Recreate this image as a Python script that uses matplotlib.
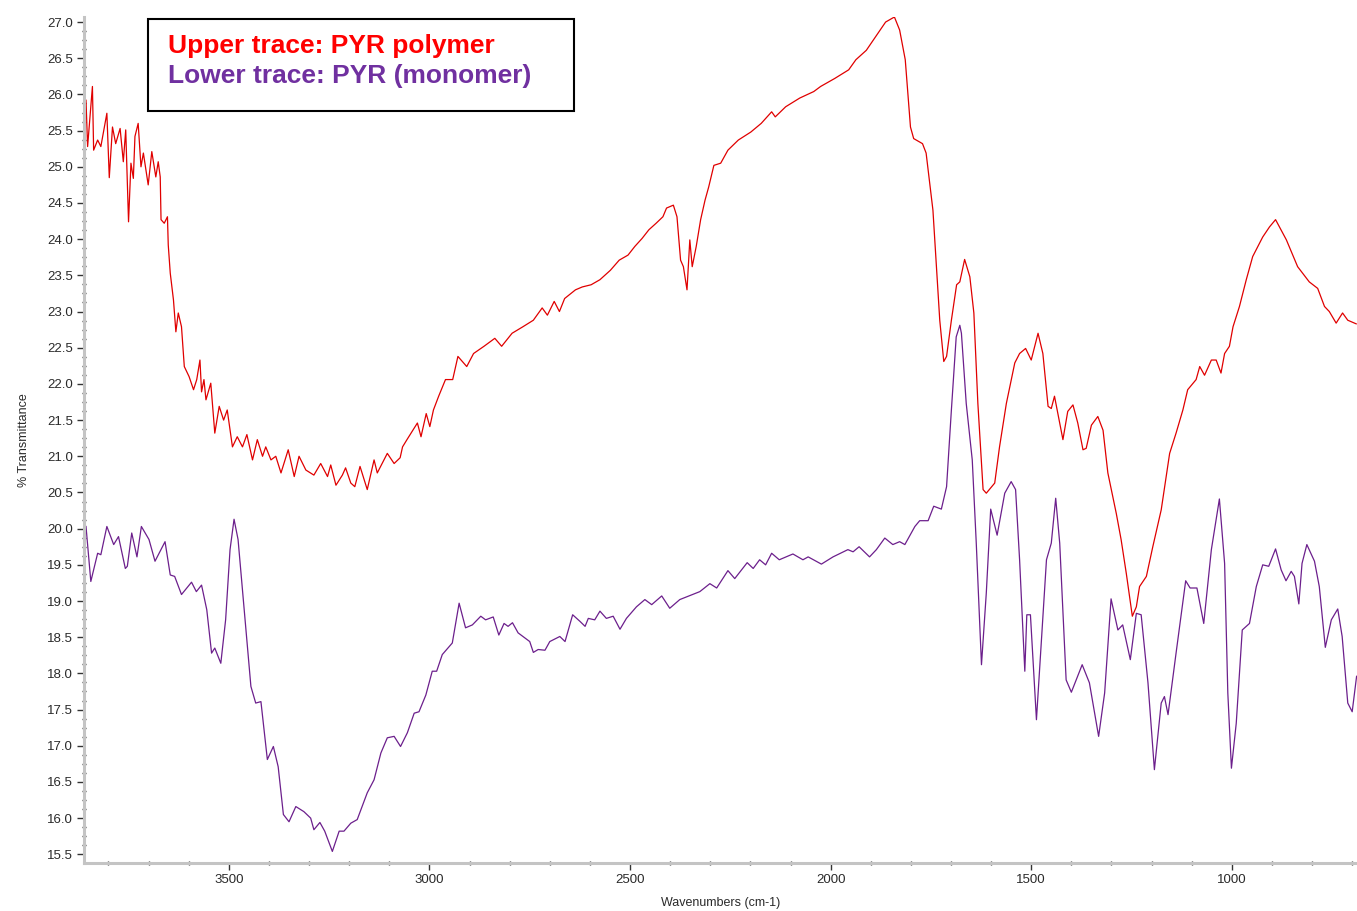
import matplotlib
matplotlib.use("Agg")
import matplotlib.pyplot as plt
from matplotlib.patches import Rectangle
from matplotlib.ticker import MultipleLocator, FormatStrFormatter

plt.rcParams['font.family'] = ['Liberation Sans', 'DejaVu Sans']

# PYR polymer (upper trace)
poly_wn = [3856, 3852, 3840, 3837, 3827, 3819, 3804, 3798, 3790, 3782, 3771, 3763, 3757, 3750,
           3744, 3738, 3734, 3726, 3719, 3713, 3701, 3692, 3682, 3676, 3671, 3669, 3661, 3653,
           3651, 3646, 3638, 3632, 3626, 3618, 3611, 3599, 3588, 3580, 3572, 3568, 3562, 3557,
           3545, 3535, 3524, 3513, 3504, 3491, 3479, 3466, 3455, 3441, 3429, 3416, 3408, 3395,
           3383, 3370, 3352, 3337, 3325, 3308, 3288, 3271, 3254, 3246, 3233, 3217, 3209, 3196,
           3186, 3173, 3155, 3138, 3130, 3105, 3088, 3073, 3067, 3056, 3030, 3021, 3008, 2999,
           2990, 2977, 2960, 2942, 2929, 2907, 2890, 2864, 2837, 2820, 2794, 2767, 2741, 2719,
           2706, 2689, 2676, 2663, 2636, 2619, 2597, 2575, 2549, 2527, 2505, 2488, 2470, 2453,
           2435, 2418, 2409, 2392, 2383, 2374, 2367, 2358, 2351, 2345, 2335, 2324, 2313, 2304,
           2291, 2274, 2256, 2230, 2199, 2173, 2147, 2138, 2112, 2077, 2042, 2025, 1990, 1955,
           1937, 1911, 1885, 1863, 1841, 1828, 1814, 1801, 1793, 1771, 1762, 1745, 1736, 1728,
           1718, 1711, 1699, 1686, 1678, 1666, 1653, 1643, 1633, 1620, 1612, 1591, 1579, 1562,
           1541, 1529, 1514, 1500, 1483, 1471, 1458, 1450, 1442, 1421, 1409, 1396, 1384, 1371,
           1363, 1350, 1334, 1321, 1309, 1288, 1276, 1263, 1248, 1238, 1230, 1213, 1197, 1176,
           1155, 1139, 1122, 1110, 1089, 1080, 1068, 1051, 1039, 1027, 1018, 1006, 997, 981,
           964, 948, 923, 906, 891, 864, 836, 807, 786, 769, 757, 740, 724, 711, 690]
poly_t = [25.92, 25.28, 26.11, 25.23, 25.37, 25.28, 25.74, 24.85, 25.55, 25.32, 25.53, 25.07, 25.51, 24.24,
          25.05, 24.84, 25.42, 25.60, 25.00, 25.19, 24.75, 25.21, 24.86, 25.07, 24.86, 24.27, 24.22, 24.31,
          23.92, 23.53, 23.16, 22.72, 22.98, 22.79, 22.24, 22.10, 21.92, 22.06, 22.33, 21.89, 22.06, 21.78,
          22.01, 21.32, 21.69, 21.50, 21.64, 21.13, 21.27, 21.13, 21.30, 20.95, 21.23, 21.00, 21.13, 20.95,
          21.00, 20.77, 21.09, 20.72, 21.00, 20.81, 20.74, 20.90, 20.72, 20.88, 20.60, 20.74, 20.84, 20.63,
          20.58, 20.86, 20.54, 20.95, 20.77, 21.04, 20.90, 20.98, 21.13, 21.23, 21.46, 21.27, 21.59, 21.41,
          21.64, 21.83, 22.06, 22.06, 22.38, 22.24, 22.42, 22.52, 22.63, 22.52, 22.70, 22.79, 22.88, 23.05,
          22.95, 23.14, 23.00, 23.18, 23.30, 23.34, 23.37, 23.44, 23.57, 23.71, 23.78, 23.90, 24.01, 24.13,
          24.22, 24.31, 24.43, 24.47, 24.31, 23.71, 23.62, 23.30, 23.99, 23.62, 23.90, 24.27, 24.54, 24.72,
          25.02, 25.05, 25.23, 25.37, 25.48, 25.60, 25.76, 25.69, 25.83, 25.95, 26.04, 26.11, 26.22, 26.34,
          26.48, 26.61, 26.82, 27.00, 27.07, 26.89, 26.48, 25.55, 25.39, 25.32, 25.19, 24.40, 23.60, 22.88,
          22.31, 22.38, 22.88, 23.37, 23.41, 23.72, 23.48, 22.98, 21.73, 20.54, 20.49, 20.63, 21.13, 21.73,
          22.29, 22.42, 22.49, 22.33, 22.70, 22.42, 21.69, 21.66, 21.83, 21.23, 21.62, 21.71, 21.46, 21.09,
          21.11, 21.43, 21.55, 21.36, 20.77, 20.21, 19.85, 19.38, 18.79, 18.92, 19.20, 19.34, 19.75, 20.26,
          21.04, 21.32, 21.64, 21.92, 22.06, 22.24, 22.12, 22.33, 22.33, 22.15, 22.42, 22.52, 22.79, 23.07,
          23.44, 23.76, 24.03, 24.17, 24.27, 23.99, 23.62, 23.41, 23.32, 23.07, 23.00, 22.84, 22.98, 22.88, 22.83]

# PYR monomer (lower trace)
mono_wn = [3856, 3844, 3827, 3819, 3804, 3787, 3775, 3758, 3753, 3742, 3729, 3718, 3699, 3684,
           3659, 3646, 3635, 3618, 3593, 3581, 3568, 3555, 3543, 3535, 3520, 3508, 3497, 3487,
           3477, 3464, 3445, 3433, 3420, 3404, 3389, 3377, 3364, 3350, 3333, 3313, 3296, 3288,
           3273, 3261, 3242, 3225, 3213, 3196, 3180, 3155, 3138, 3121, 3105, 3088, 3072, 3055,
           3038, 3026, 3009, 2993, 2982, 2968, 2943, 2926, 2910, 2893, 2872, 2860, 2841, 2827,
           2814, 2804, 2793, 2779, 2750, 2741, 2729, 2712, 2700, 2675, 2662, 2643, 2625, 2612,
           2604, 2588, 2575, 2559, 2542, 2525, 2509, 2484, 2463, 2446, 2421, 2401, 2376, 2326,
           2301, 2284, 2256, 2239, 2208, 2193, 2177, 2162, 2147, 2128, 2094, 2069, 2056, 2023,
           1994, 1957, 1944, 1929, 1903, 1886, 1865, 1845, 1828, 1815, 1790, 1778, 1757, 1743,
           1724, 1711, 1699, 1687, 1678, 1674, 1662, 1647, 1637, 1624, 1612, 1601, 1585, 1566,
           1550, 1539, 1529, 1516, 1511, 1502, 1487, 1475, 1462, 1450, 1439, 1429, 1413, 1400,
           1373, 1355, 1332, 1317, 1301, 1284, 1272, 1253, 1238, 1226, 1209, 1193, 1176, 1168,
           1159, 1139, 1115, 1104, 1087, 1070, 1051, 1031, 1018, 1010, 1001, 989, 974, 956,
           939, 923, 908, 891, 877, 865, 852, 844, 833, 825, 813, 794, 782, 767,
           752, 736, 725, 711, 700, 689]
mono_t = [20.03, 19.27, 19.66, 19.64, 20.03, 19.78, 19.89, 19.45, 19.48, 19.94, 19.61, 20.03, 19.85, 19.55,
          19.82, 19.36, 19.34, 19.09, 19.26, 19.13, 19.22, 18.88, 18.28, 18.35, 18.14, 18.74, 19.71, 20.13,
          19.85, 19.02, 17.82, 17.59, 17.61, 16.81, 16.99, 16.71, 16.05, 15.95, 16.16, 16.09, 16.00, 15.84,
          15.94, 15.82, 15.54, 15.82, 15.82, 15.93, 15.98, 16.35, 16.53, 16.90, 17.11, 17.13, 16.99, 17.18,
          17.45, 17.47, 17.70, 18.03, 18.03, 18.26, 18.42, 18.97, 18.63, 18.67, 18.79, 18.74, 18.78, 18.53,
          18.69, 18.65, 18.70, 18.56, 18.44, 18.29, 18.33, 18.32, 18.44, 18.51, 18.44, 18.81, 18.72, 18.65,
          18.76, 18.74, 18.86, 18.76, 18.79, 18.61, 18.76, 18.92, 19.02, 18.95, 19.07, 18.90, 19.02, 19.13,
          19.24, 19.18, 19.42, 19.31, 19.53, 19.45, 19.57, 19.50, 19.66, 19.57, 19.65, 19.57, 19.61, 19.51,
          19.61, 19.71, 19.68, 19.75, 19.61, 19.71, 19.87, 19.78, 19.82, 19.78, 20.03, 20.11, 20.11, 20.31,
          20.27, 20.58, 21.64, 22.65, 22.81, 22.70, 21.73, 20.95, 19.80, 18.12, 19.11, 20.27, 19.91, 20.49,
          20.65, 20.54, 19.57, 18.03, 18.81, 18.81, 17.36, 18.42, 19.57, 19.80, 20.42, 19.80, 17.91, 17.74,
          18.12, 17.87, 17.13, 17.73, 19.03, 18.60, 18.67, 18.19, 18.83, 18.81, 17.87, 16.67, 17.59, 17.68,
          17.43, 18.28, 19.28, 19.18, 19.18, 18.69, 19.71, 20.41, 19.52, 17.73, 16.69, 17.31, 18.60, 18.69,
          19.20, 19.50, 19.48, 19.72, 19.43, 19.28, 19.41, 19.34, 18.96, 19.52, 19.78, 19.55, 19.20, 18.36,
          18.74, 18.89, 18.51, 17.59, 17.47, 17.96]

W, H = 1357, 911
fig = plt.figure(figsize=(W / 100, H / 100), dpi=100)
ax = fig.add_axes([84 / W, 1 - 863 / H, (W - 84) / W, (863 - 17) / H])

ax.plot(poly_wn, poly_t, color='#e00000', lw=0.9)
ax.plot(mono_wn, mono_t, color='#6c1f8c', lw=0.9)

ax.set_xlim(3861, 688)
ax.set_ylim(15.38, 27.07)

ax.xaxis.set_major_locator(MultipleLocator(500))
ax.xaxis.set_minor_locator(MultipleLocator(100))
ax.yaxis.set_major_locator(MultipleLocator(0.5))
ax.yaxis.set_minor_locator(MultipleLocator(0.125))
ax.yaxis.set_major_formatter(FormatStrFormatter('%.1f'))

for s in ['top', 'right']:
    ax.spines[s].set_visible(False)
for s in ['left', 'bottom']:
    ax.spines[s].set_color('#c4c4c4')
    ax.spines[s].set_linewidth(2.2)

ax.tick_params(which='major', direction='out', length=5, width=1, color='#333333',
               labelsize=9.5, labelcolor='#2a2a2a', pad=3)
ax.tick_params(which='minor', direction='inout', length=3, width=1, color='#333333')

ax.set_xlabel('Wavenumbers (cm-1)', fontsize=9, color='#2a2a2a', labelpad=8)
ax.set_ylabel('% Transmittance', fontsize=9, color='#2a2a2a', labelpad=12)

fig.add_artist(Rectangle((148 / W, 1 - 111 / H), (574 - 148) / W, (111 - 19) / H,
                         transform=fig.transFigure, facecolor='white', edgecolor='black', lw=1.5))
fig.text(168 / W, 1 - 46 / H, 'Upper trace: PYR polymer', color='#ff0000',
         fontsize=19, fontweight='bold', va='center', ha='left')
fig.text(168 / W, 1 - 76 / H, 'Lower trace: PYR (monomer)', color='#7030a0',
         fontsize=19, fontweight='bold', va='center', ha='left')

fig.savefig('out.png', dpi=100)
